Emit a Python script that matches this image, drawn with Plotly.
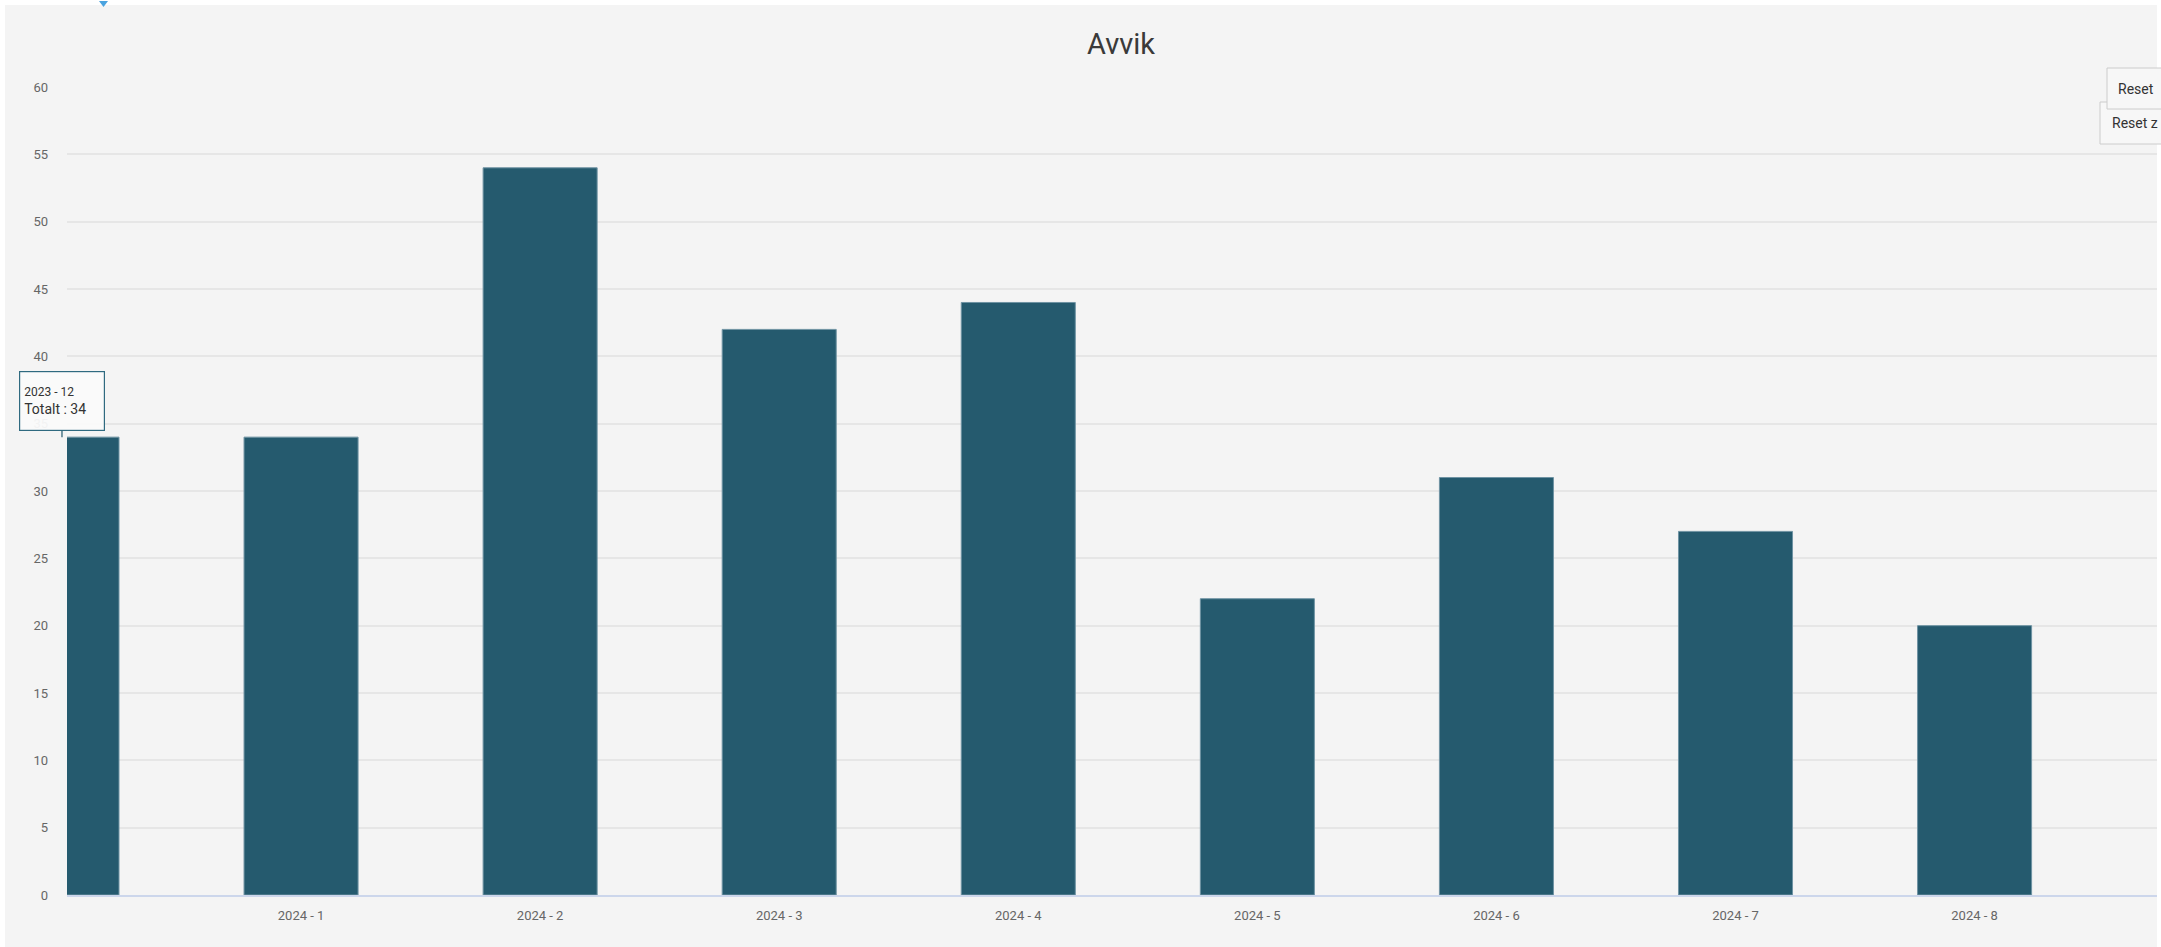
import plotly.graph_objects as go

# ---- data ----
categories = ["2023 - 12", "2024 - 1", "2024 - 2", "2024 - 3", "2024 - 4",
              "2024 - 5", "2024 - 6", "2024 - 7", "2024 - 8"]
values = [34, 34, 54, 42, 44, 22, 31, 27, 20]
title_text = "Avvik"
series_name = "Totalt"
y_ticks = list(range(0, 61, 5))
buttons = ["Reset", "Reset z"]

W, H = 2161, 947
L, R, T, B = 67, 2157, 87, 895  # plot area in px
BAR = "#255a6e"
FONT = "Roboto"

x_range = [0.021, 8.763]

def px_x(px):
    return (px - L) / (R - L)

def px_y(py):
    return (B - py) / (B - T)

fig = go.Figure()
fig.add_trace(go.Bar(
    x=list(range(len(categories))), y=values, name=series_name,
    marker=dict(color=BAR, line=dict(color="#6f93a3", width=1)),
    width=0.477, hoverinfo="skip",
))

shapes = []
# chart background with white outer strips
shapes.append(dict(type="rect", xref="paper", yref="paper", layer="below",
                   x0=px_x(5), x1=px_x(R), y0=px_y(5), y1=px_y(H + 5),
                   fillcolor="#f4f4f4", line=dict(width=0)))
# small blue marker at top
shapes.append(dict(type="path", xref="paper", yref="paper", layer="above",
                   path=f"M {px_x(99)} {px_y(1)} L {px_x(108)} {px_y(1)} L {px_x(103.5)} {px_y(7)} Z",
                   fillcolor="#4aa3df", line=dict(width=0)))
# reset buttons (second drawn first, first on top)
shapes.append(dict(type="rect", xref="paper", yref="paper", layer="above",
                   x0=px_x(2100), x1=px_x(2180), y0=px_y(102), y1=px_y(144),
                   fillcolor="#f7f7f7", line=dict(color="#cccccc", width=1)))
shapes.append(dict(type="rect", xref="paper", yref="paper", layer="above",
                   x0=px_x(2107), x1=px_x(2180), y0=px_y(68), y1=px_y(109),
                   fillcolor="#f7f7f7", line=dict(color="#cccccc", width=1)))

annotations = []
annotations.append(dict(xref="paper", yref="paper", x=px_x(2110), y=px_y(123),
                        xanchor="left", yanchor="middle", showarrow=False,
                        text=buttons[1], font=dict(family=FONT, size=14, color="#333333")))
annotations.append(dict(xref="paper", yref="paper", x=px_x(2116), y=px_y(89),
                        xanchor="left", yanchor="middle", showarrow=False,
                        text=buttons[0], font=dict(family=FONT, size=14, color="#333333")))
# tooltip on first point
tip_x = (0 - x_range[0]) / (x_range[1] - x_range[0])
annotations.append(dict(
    xref="paper", yref="y", x=tip_x, y=values[0],
    text=f"<span style='font-size:12px'>{categories[0]}</span><br>{series_name} : {values[0]}",
    showarrow=True, arrowhead=0, arrowwidth=1.2, arrowcolor=BAR,
    ax=0, ay=-36, align="left", width=76, height=50,
    bgcolor="rgba(250,250,250,0.95)", bordercolor="#2f6a80", borderwidth=1.2, borderpad=4,
    font=dict(family=FONT, size=14, color="#333333"),
))

fig.update_layout(
    width=W, height=H,
    margin=dict(l=L, r=W - R, t=T, b=H - B, pad=0),
    paper_bgcolor="white", plot_bgcolor="#f4f4f4",
    showlegend=False, bargap=0.523,
    title=dict(text=title_text, x=1121 / W, xanchor="center", xref="container",
               y=1 - 44 / H, yanchor="middle", yref="container",
               font=dict(family=FONT, size=29, color="#3a3a3a")),
    font=dict(family=FONT, color="#666666"),
    xaxis=dict(
        type="linear", range=x_range,
        tickmode="array", tickvals=list(range(len(categories))), ticktext=categories,
        showgrid=False, zeroline=False,
        showline=True, linecolor="#ccd6eb", linewidth=1.5,
        ticks="", ticklabelstandoff=8,
        tickfont=dict(family=FONT, size=13, color="#666666"),
    ),
    yaxis=dict(
        range=[0, 60], tickmode="array", tickvals=y_ticks,
        showgrid=True, gridcolor="#e6e6e6", gridwidth=1.5, zeroline=False,
        showline=False, ticks="", ticklabelstandoff=18,
        tickfont=dict(family=FONT, size=13, color="#666666"),
    ),
    shapes=shapes, annotations=annotations,
)

fig.write_html("out.html", config={"displayModeBar": False},
               post_script="document.body.style.margin='0';document.body.style.overflow='hidden';")
